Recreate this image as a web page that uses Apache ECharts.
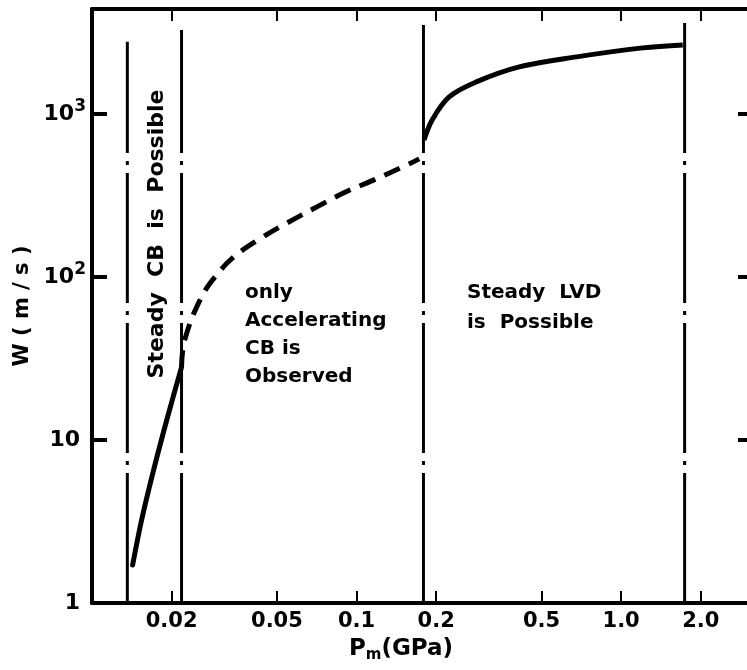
<!DOCTYPE html>
<html>
<head>
<meta charset="utf-8">
<script src="https://cdn.jsdelivr.net/npm/echarts@6/dist/echarts.min.js"></script>
<style>
html, body { margin: 0; padding: 0; background: #fff; }
#chart { width: 747px; height: 670px; }
</style>
</head>
<body>
<div id="chart"></div>
<script>
// W(m/s) against Pm(GPa), both log scales

var xTicks = [0.02, 0.05, 0.1, 0.2, 0.5, 1.0, 2.0];
var xTickLabels = ['0.02', '0.05', '0.1', '0.2', '0.5', '1.0', '2.0'];
var yTicks = [1, 10, 100, 1000];
var yTickLabels = ['{n|1}', '{n|10}', '10{s|2}', '10{s|3}'];

// low pressure part, solid
var lowX = [0.01424, 0.0154, 0.0171, 0.01918, 0.0218];
var lowY = [1.71, 3.23, 6.55, 13.3, 28];

// accelerating CB, dashed
var midX = [0.0218, 0.0224, 0.0258, 0.0296, 0.0346, 0.0435, 0.0545, 0.0708, 0.0896, 0.1164, 0.1553, 0.1725];
var midY = [28, 41, 74, 103, 134, 173, 214, 269, 328, 394, 487, 530];

// steady LVD, solid
var highX = [0.180, 0.1931, 0.2239, 0.2835, 0.412, 0.678, 1.206, 1.71];
var highY = [692, 919, 1271, 1571, 1942, 2238, 2541, 2650];

// dash-dot region boundaries
var boundX = [0.0136, 0.0218, 0.179, 1.738];
var boundTop = [2766, 3275, 3516, 3774];

var FONT = 'DejaVu Sans';

function zip(xs, ys) {
    var out = [];
    for (var i = 0; i < xs.length; i++) {
        out.push([xs[i], ys[i]]);
    }
    return out;
}

function nearestIndex(list, v) {
    var best = 0, bestD = Infinity;
    for (var i = 0; i < list.length; i++) {
        var d = Math.abs(Math.log(v) - Math.log(list[i]));
        if (d < bestD) { bestD = d; best = i; }
    }
    return best;
}

var chart = echarts.init(document.getElementById('chart'), null, {renderer: 'canvas'});

var series = [
    {
        type: 'line',
        data: zip(lowX, lowY),
        smooth: 0.3,
        symbol: 'none',
        silent: true,
        lineStyle: {color: '#000', width: 5, cap: 'round'}
    },
    {
        type: 'line',
        data: zip(midX, midY),
        smooth: 0.4,
        symbol: 'none',
        silent: true,
        lineStyle: {color: '#000', width: 5, type: [17, 10]}
    },
    {
        type: 'line',
        data: zip(highX, highY),
        smooth: 0.35,
        symbol: 'none',
        silent: true,
        lineStyle: {color: '#000', width: 5}
    }
];

for (var i = 0; i < boundX.length; i++) {
    series.push({
        type: 'line',
        data: [[boundX[i], 1], [boundX[i], boundTop[i]]],
        symbol: 'none',
        silent: true,
        lineStyle: {color: '#000', width: 3, type: [130, 8, 4, 8]}
    });
}

var option = {
    backgroundColor: '#fff',
    animation: false,
    grid: {
        left: 92,
        right: -3,
        top: 9,
        bottom: 67,
        outerBoundsMode: 'none'
    },
    xAxis: [
        {
            type: 'log',
            logBase: 10,
            min: 0.01,
            max: 3.07,
            position: 'bottom',
            name: '{p|P}{m|m}{p|(GPa)}',
            nameLocation: 'middle',
            nameGap: 33,
            nameTextStyle: {
                padding: [0, 40, 0, 0],
                rich: {
                    p: {fontFamily: FONT, fontWeight: 'bold', fontSize: 23, color: '#000'},
                    m: {fontFamily: FONT, fontWeight: 'bold', fontSize: 15, color: '#000', padding: [12, 0, 0, 0]}
                }
            },
            axisLine: {show: true, lineStyle: {color: '#000', width: 4}},
            axisTick: {show: true, inside: true, length: 12, customValues: xTicks, lineStyle: {color: '#000', width: 2}},
            axisLabel: {
                show: true,
                customValues: xTicks,
                margin: 8,
                color: '#000',
                fontFamily: FONT,
                fontWeight: 'bold',
                fontSize: 21,
                formatter: function (v) { return xTickLabels[nearestIndex(xTicks, v)]; }
            },
            splitLine: {show: false},
            minorTick: {show: false}
        },
        {
            type: 'log',
            logBase: 10,
            min: 0.01,
            max: 3.07,
            position: 'top',
            axisLine: {show: true, lineStyle: {color: '#000', width: 4}},
            axisTick: {show: true, inside: true, length: 12, customValues: xTicks, lineStyle: {color: '#000', width: 2}},
            axisLabel: {show: false},
            splitLine: {show: false}
        }
    ],
    yAxis: [
        {
            type: 'log',
            logBase: 10,
            min: 1,
            max: 4400,
            position: 'left',
            name: 'W ( m / s )',
            nameLocation: 'middle',
            nameGap: 57,
            nameTextStyle: {fontFamily: FONT, fontWeight: 'bold', fontSize: 21, color: '#000'},
            axisLine: {show: true, lineStyle: {color: '#000', width: 4}},
            axisTick: {show: true, inside: true, length: 15, customValues: yTicks, lineStyle: {color: '#000', width: 4}},
            axisLabel: {
                show: true,
                customValues: yTicks,
                margin: 6,
                color: '#000',
                fontFamily: FONT,
                fontWeight: 'bold',
                fontSize: 22,
                formatter: function (v) { return yTickLabels[nearestIndex(yTicks, v)]; },
                rich: {
                    n: {fontFamily: FONT, fontWeight: 'bold', fontSize: 22, color: '#000', padding: [0, 6, 0, 0]},
                    s: {fontFamily: FONT, fontWeight: 'bold', fontSize: 17, color: '#000', padding: [0, 0, 14, 0]}
                }
            },
            splitLine: {show: false},
            minorTick: {show: false}
        },
        {
            type: 'log',
            logBase: 10,
            min: 1,
            max: 4400,
            position: 'right',
            axisLine: {show: true, lineStyle: {color: '#000', width: 4}},
            axisTick: {show: true, inside: true, length: 12, customValues: yTicks, lineStyle: {color: '#000', width: 4}},
            axisLabel: {show: false},
            splitLine: {show: false}
        }
    ],
    graphic: [
        {
            type: 'text',
            x: 157,
            y: 234,
            rotation: Math.PI / 2,
            silent: true,
            style: {
                text: 'Steady  CB  is  Possible',
                fill: '#000',
                font: 'bold 22px "DejaVu Sans"',
                textAlign: 'center',
                textVerticalAlign: 'middle'
            }
        },
        {
            type: 'text',
            x: 245,
            y: 279,
            silent: true,
            style: {
                text: 'only\nAccelerating\nCB is\nObserved',
                fill: '#000',
                font: 'bold 20px "DejaVu Sans"',
                lineHeight: 28,
                textAlign: 'left',
                textVerticalAlign: 'top'
            }
        },
        {
            type: 'text',
            x: 467,
            y: 278,
            silent: true,
            style: {
                text: 'Steady  LVD\nis  Possible',
                fill: '#000',
                font: 'bold 20px "DejaVu Sans"',
                lineHeight: 30,
                textAlign: 'left',
                textVerticalAlign: 'top'
            }
        }
    ],
    series: series
};

chart.setOption(option);
</script>
</body>
</html>
